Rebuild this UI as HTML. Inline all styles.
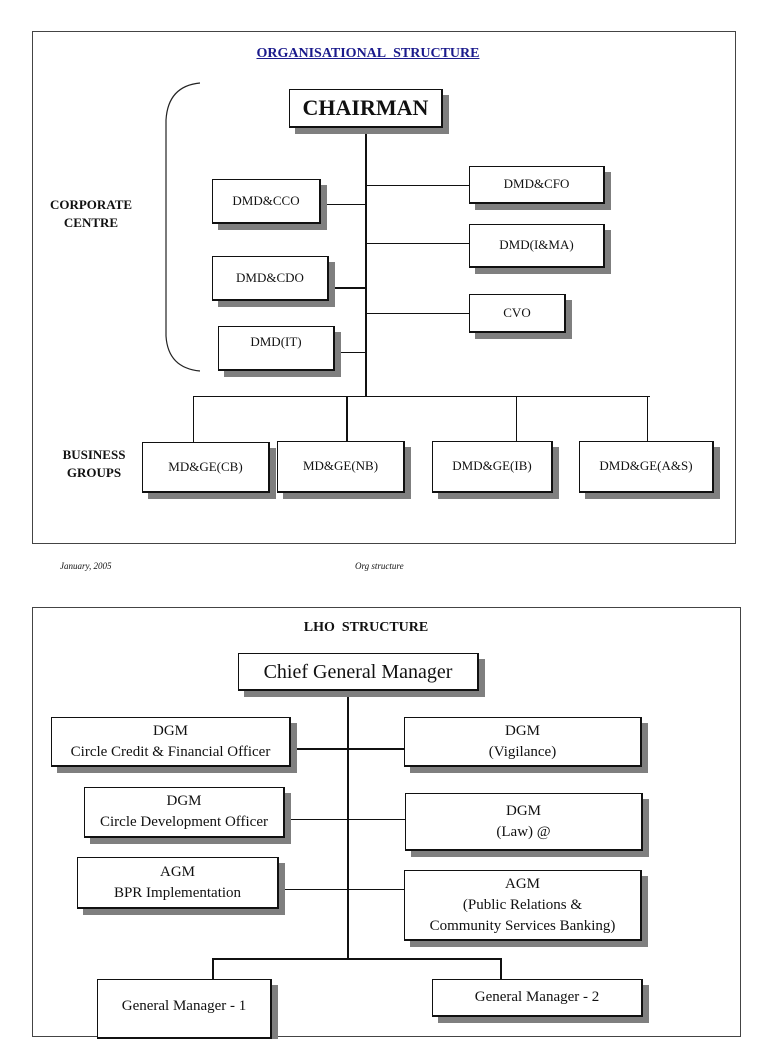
<!DOCTYPE html>
<html><head><meta charset="utf-8"><style>
body{margin:0;width:768px;height:1024px;background:#fff;position:relative;overflow:hidden;font-family:"Liberation Serif",serif;color:#111}
.a{position:absolute}
.b{position:absolute;background:#fff;border:1px solid #111;border-right-width:2px;border-bottom-width:2px;box-shadow:6px 6px 0 #7f7f7f;box-sizing:border-box;display:flex;align-items:center;justify-content:center;text-align:center;font-size:13px;line-height:1.3}
.h{position:absolute;height:1px;background:#111}
.v{position:absolute;width:1px;background:#111}
.lb{position:absolute;font-weight:bold;font-size:13px;text-align:center;line-height:18px}
.l{font-size:15px;line-height:21px}
</style></head><body>
<div class="a" style="left:32px;top:31px;width:704px;height:513px;border:1px solid #444;box-sizing:border-box"></div>
<div class="a" style="left:0;width:736px;top:46px;text-align:center;color:#1a1a8c;font-weight:bold;font-size:14px;text-decoration:underline">ORGANISATIONAL&nbsp; STRUCTURE</div>
<svg class="a" style="left:160px;top:80px" width="50" height="295"><path d="M40 3 Q8 6 6 40 L6 256 Q8 288 40 291" fill="none" stroke="#222" stroke-width="1.2"/></svg>
<div class="lb" style="left:40px;width:102px;top:196px">CORPORATE<br>CENTRE</div>
<div class="lb" style="left:44px;width:100px;top:446px">BUSINESS<br>GROUPS</div>
<div class="v" style="left:365px;top:128px;height:268px;width:2px"></div>
<div class="h" style="left:366px;top:185px;width:103px"></div>
<div class="h" style="left:321px;top:204px;width:45px"></div>
<div class="h" style="left:366px;top:243px;width:103px"></div>
<div class="h" style="left:329px;top:287px;width:37px;height:2px"></div>
<div class="h" style="left:366px;top:313px;width:103px"></div>
<div class="h" style="left:335px;top:352px;width:31px"></div>
<div class="h" style="left:193px;top:396px;width:457px"></div>
<div class="v" style="left:193px;top:396px;height:46px"></div>
<div class="v" style="left:346px;top:396px;height:45px;width:2px"></div>
<div class="v" style="left:516px;top:396px;height:45px"></div>
<div class="v" style="left:647px;top:396px;height:45px"></div>
<div class="b" style="left:289px;top:89px;width:154px;height:39px;font-size:22px;font-weight:bold">CHAIRMAN</div>
<div class="b" style="left:212px;top:179px;width:109px;height:45px">DMD&amp;CCO</div>
<div class="b" style="left:469px;top:166px;width:136px;height:38px">DMD&amp;CFO</div>
<div class="b" style="left:469px;top:224px;width:136px;height:44px">DMD(I&amp;MA)</div>
<div class="b" style="left:212px;top:256px;width:117px;height:45px">DMD&amp;CDO</div>
<div class="b" style="left:469px;top:294px;width:97px;height:39px">CVO</div>
<div class="b" style="left:218px;top:326px;width:117px;height:45px;align-items:flex-start;padding-top:7px">DMD(IT)</div>
<div class="b" style="left:142px;top:442px;width:128px;height:51px">MD&amp;GE(CB)</div>
<div class="b" style="left:277px;top:441px;width:128px;height:52px">MD&amp;GE(NB)</div>
<div class="b" style="left:432px;top:441px;width:121px;height:52px">DMD&amp;GE(IB)</div>
<div class="b" style="left:579px;top:441px;width:135px;height:52px;align-items:flex-start;padding-top:16px">DMD&amp;GE(A&amp;S)</div>
<div class="a" style="left:60px;top:561px;font-size:9px;font-style:italic">January, 2005</div>
<div class="a" style="left:355px;top:561px;font-size:9px;font-style:italic">Org structure</div>

<div class="a" style="left:32px;top:607px;width:709px;height:430px;border:1px solid #444;box-sizing:border-box"></div>
<div class="a" style="left:0;width:732px;top:620px;text-align:center;font-weight:bold;font-size:14px">LHO&nbsp; STRUCTURE</div>
<div class="v" style="left:347px;top:691px;height:268px;width:2px"></div>
<div class="h" style="left:291px;top:748px;width:113px;height:2px"></div>
<div class="h" style="left:285px;top:819px;width:120px"></div>
<div class="h" style="left:279px;top:889px;width:125px"></div>
<div class="h" style="left:212px;top:958px;width:290px;height:2px"></div>
<div class="v" style="left:212px;top:958px;height:21px;width:2px"></div>
<div class="v" style="left:500px;top:958px;height:21px;width:2px"></div>
<div class="b" style="left:238px;top:653px;width:241px;height:38px;font-size:20px">Chief General Manager</div>
<div class="b l" style="left:51px;top:717px;width:240px;height:50px">DGM<br>Circle Credit &amp; Financial Officer</div>
<div class="b l" style="left:404px;top:717px;width:238px;height:50px">DGM<br>(Vigilance)</div>
<div class="b l" style="left:84px;top:787px;width:201px;height:51px">DGM<br>Circle Development Officer</div>
<div class="b l" style="left:405px;top:793px;width:238px;height:58px">DGM<br>(Law) @</div>
<div class="b l" style="left:77px;top:857px;width:202px;height:52px">AGM<br>BPR Implementation</div>
<div class="b l" style="left:404px;top:870px;width:238px;height:71px">AGM<br>(Public Relations &amp;<br>Community Services Banking)</div>
<div class="b l" style="left:97px;top:979px;width:175px;height:60px;align-items:flex-start;padding-top:16px">General Manager - 1</div>
<div class="b l" style="left:432px;top:979px;width:211px;height:38px">General Manager - 2</div>
</body></html>
